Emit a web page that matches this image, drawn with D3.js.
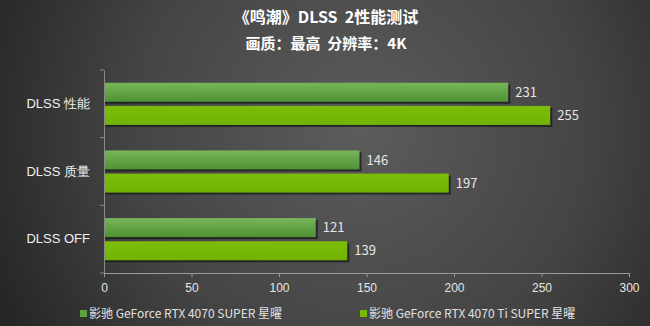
<!DOCTYPE html>
<html><head><meta charset="utf-8">
<script src="https://cdn.jsdelivr.net/npm/d3@7"></script>
<style>
html,body{margin:0;padding:0;background:#333;}
svg{display:block;font-family:"Noto Sans CJK SC","Noto Sans",sans-serif;}
.pre{white-space:pre;}
</style></head>
<body>
<script>
const categories = ["DLSS 性能", "DLSS 质量", "DLSS OFF"];
const seriesNames = ["影驰 GeForce RTX 4070 SUPER 星曜", "影驰 GeForce RTX 4070 Ti SUPER 星曜"];
const series1 = [231, 146, 121];
const series2 = [255, 197, 139];
const xTicks = [0, 50, 100, 150, 200, 250, 300];
const title = "《鸣潮》DLSS  2性能测试";
const subtitle = "画质：最高  分辨率：4K";

const W = 650, H = 326;
const svg = d3.select("body").append("svg").attr("width", W).attr("height", H);
const defs = svg.append("defs");

const bg = defs.append("radialGradient").attr("id","bg")
  .attr("gradientUnits","userSpaceOnUse").attr("cx",360).attr("cy",130).attr("r",420);
bg.append("stop").attr("offset","0%").attr("stop-color","#5c5c5c");
bg.append("stop").attr("offset","55%").attr("stop-color","#444444");
bg.append("stop").attr("offset","100%").attr("stop-color","#222222");

const g1 = defs.append("linearGradient").attr("id","g1").attr("x1",0).attr("y1",0).attr("x2",0).attr("y2",1);
g1.append("stop").attr("offset","0%").attr("stop-color","#78b65a");
g1.append("stop").attr("offset","100%").attr("stop-color","#4f9134");
const g2 = defs.append("linearGradient").attr("id","g2").attr("x1",0).attr("y1",0).attr("x2",0).attr("y2",1);
g2.append("stop").attr("offset","0%").attr("stop-color","#7cbd08");
g2.append("stop").attr("offset","100%").attr("stop-color","#72b300");

svg.append("rect").attr("width",W).attr("height",H).attr("fill","url(#bg)");

svg.append("text").attr("class","pre").attr("x",326).attr("y",23).attr("text-anchor","middle")
  .attr("fill","#ffffff").attr("font-size",16).attr("font-weight","bold").text(title);
svg.append("text").attr("class","pre").attr("x",326).attr("y",49).attr("text-anchor","middle")
  .attr("fill","#ffffff").attr("font-size",15).attr("font-weight","bold").text(subtitle);

const x = d3.scaleLinear().domain([0,300]).range([104, 629]);
const y = d3.scaleBand().domain(categories).range([70, 273]);
const inner = d3.scaleBand().domain([0,1]).range([0, y.bandwidth()]).paddingInner(0.18).paddingOuter(0.55);

const data = categories.map((c,i)=>({c, vals:[series1[i], series2[i]]}));
const fills = ["url(#g1)","url(#g2)"];

const grp = svg.append("g").selectAll("g").data(data).join("g")
  .attr("transform", d=>`translate(0,${y(d.c)})`);
[0,1].forEach(k=>{
  grp.append("rect").attr("x", x(0)+1).attr("y", inner(k)+2)
    .attr("width", d=>x(d.vals[k])-x(0)+1).attr("height", inner.bandwidth())
    .attr("fill","#1a1a1a").attr("opacity",0.75);
  grp.append("rect").attr("x", x(0)).attr("y", inner(k))
    .attr("width", d=>x(d.vals[k])-x(0)).attr("height", inner.bandwidth())
    .attr("fill", fills[k]);
  grp.append("text").attr("x", d=>x(d.vals[k])+7).attr("y", inner(k)+inner.bandwidth()/2)
    .attr("dy","0.36em").attr("fill","#e6e6e6").attr("font-size",13).text(d=>d.vals[k]);
});

const yAxis = svg.append("g").attr("transform",`translate(${x(0)},0)`)
  .call(d3.axisLeft(y).tickSize(0).tickPadding(14));
yAxis.select(".domain").attr("stroke","#8a8a8a");
yAxis.selectAll("text").attr("fill","#f0f0f0").attr("font-size",13);
svg.append("g").selectAll("line").data([0,1,2,3]).join("line")
  .attr("x1",x(0)-4).attr("x2",x(0))
  .attr("y1",i=>70+i*y.step()).attr("y2",i=>70+i*y.step())
  .attr("stroke","#8a8a8a");

const xAxis = svg.append("g").attr("transform","translate(0,273)")
  .call(d3.axisBottom(x).tickValues(xTicks).tickSize(4).tickPadding(6).tickSizeOuter(0));
xAxis.select(".domain").attr("stroke","#9a9a9a");
xAxis.selectAll("line").attr("stroke","#9a9a9a");
xAxis.selectAll("text").attr("fill","#e6e6e6").attr("font-size",12);

const leg = svg.append("g");
const legX = [80, 360];
seriesNames.forEach((n,k)=>{
  leg.append("rect").attr("x",legX[k]).attr("y",310).attr("width",7).attr("height",7)
    .attr("fill", k===0 ? "#5ea541" : "#76b900");
  leg.append("text").attr("x",legX[k]+9).attr("y",314).attr("dy","0.36em")
    .attr("fill","#e0e0e0").attr("font-size",12).text(n);
});
</script>
</body></html>
